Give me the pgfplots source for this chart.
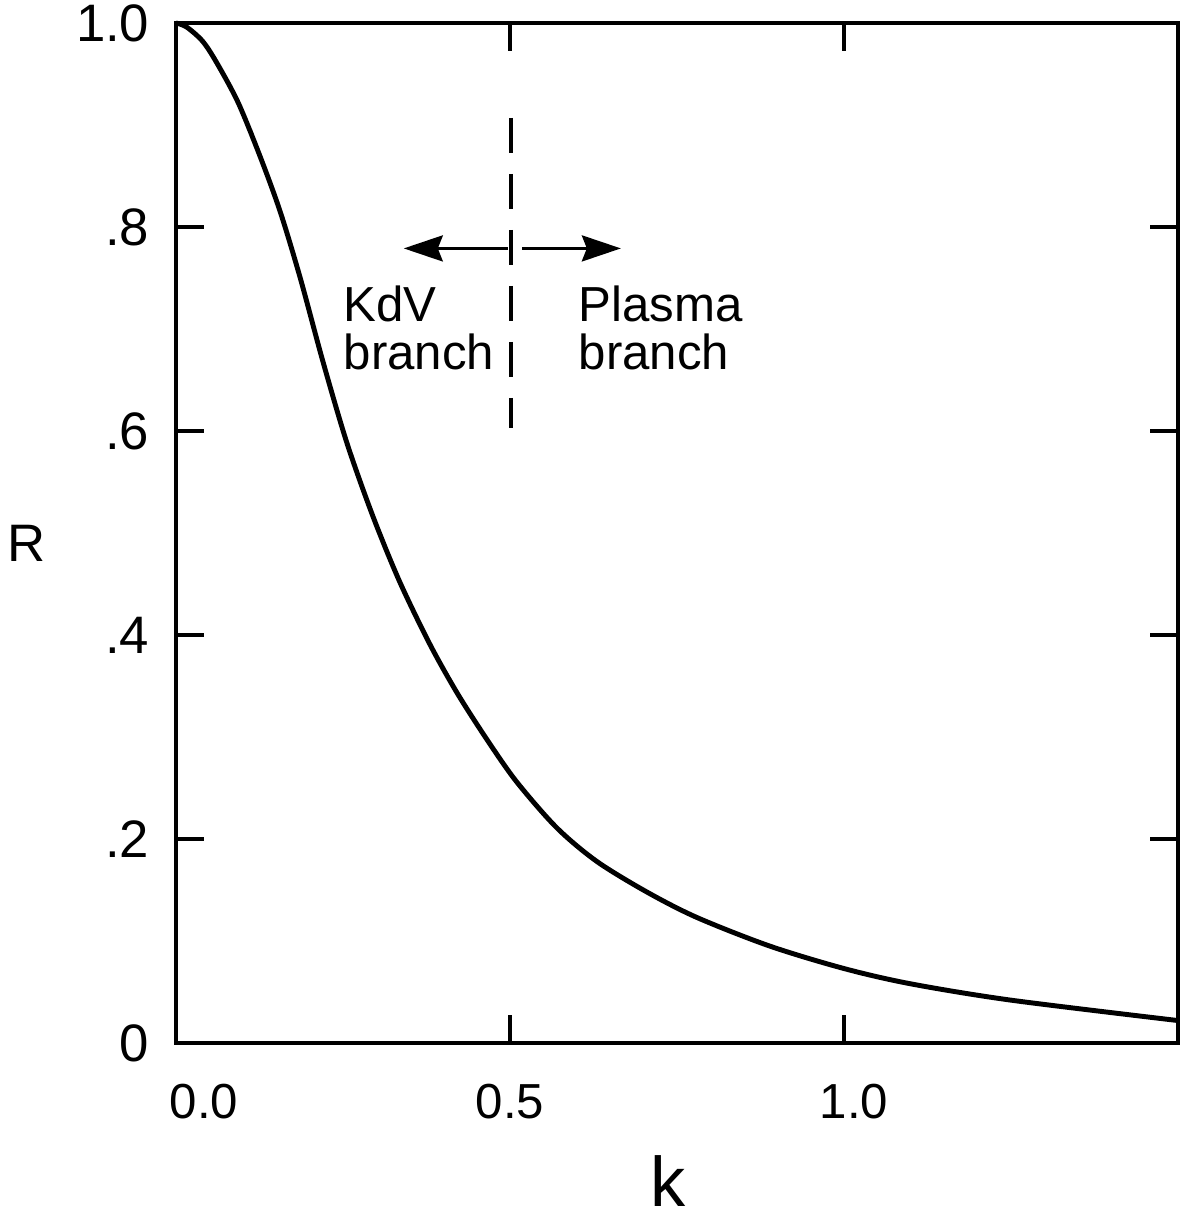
\documentclass[border=0pt]{standalone}
\usepackage{fontspec}
\setmainfont{Liberation Sans}
\usepackage{pgfplots}
\pgfplotsset{compat=1.18}
\usetikzlibrary{arrows.meta, calc}

\begin{document}
\begin{tikzpicture}
\begin{axis}[name=ax, scale only axis, width=100.2mm, height=102mm,
  xmin=0, xmax=1.5, ymin=0, ymax=1,
  axis line style={line width=1.3pt},
  tick align=inside, major tick length=2.8mm,
  tick style={line width=0.9pt, black},
  xtick={0,0.5,1.0}, xticklabels={\hspace*{5.6mm}0.0, 0.5, \hspace*{2mm}1.0},
  ytick={0,0.2,0.4,0.6,0.8,1.0}, yticklabels={0,.2,.4,.6,.8,1.0},
  xticklabel style={font=\fontsize{14}{16}\selectfont, anchor=north, inner sep=0pt, yshift=-4mm},
  yticklabel style={font=\fontsize{15}{17}\selectfont, anchor=east, inner sep=0pt, xshift=-2.6mm},
  xlabel={k}, ylabel={R},
  every axis x label/.style={at={(rel axis cs:0.491,0)}, anchor=center, yshift=-13.8mm,
    font=\fontsize{20}{22}\selectfont},
  every axis y label/.style={at={(rel axis cs:0,0.49)}, anchor=center, xshift=-14.9mm,
    font=\fontsize{15}{17}\selectfont},
  clip=false]
\addplot[line width=1.4pt, smooth] coordinates {
(0.000,1.000) (0.016,0.996) (0.040,0.982) (0.061,0.961) (0.093,0.922)
(0.126,0.869) (0.156,0.815) (0.186,0.750) (0.220,0.668) (0.256,0.588)
(0.295,0.516) (0.335,0.452) (0.380,0.391) (0.421,0.343) (0.466,0.297)
(0.510,0.256) (0.570,0.211) (0.630,0.178) (0.705,0.148) (0.780,0.123)
(0.889,0.095) (1.000,0.073) (1.100,0.058) (1.250,0.042) (1.500,0.022)};
% boundary between the two branches
\draw[line width=1.0pt, dash pattern=on 3.5mm off 2.1mm] (axis cs:0.5015,0.907) -- (axis cs:0.5015,0.603);
\draw[line width=0.9pt, -{Stealth[length=3.9mm, width=2.6mm, inset=0.5mm]}] (axis cs:0.497,0.779) -- (axis cs:0.341,0.779);
\draw[line width=0.9pt, -{Stealth[length=3.9mm, width=2.6mm, inset=0.5mm]}] (axis cs:0.518,0.779) -- (axis cs:0.666,0.779);
\node[anchor=base west, inner sep=0pt, font=\fontsize{14}{16}\selectfont] at (axis cs:0.250,0.707) {KdV};
\node[anchor=base west, inner sep=0pt, font=\fontsize{14}{16}\selectfont] at (axis cs:0.250,0.660) {branch};
\node[anchor=base west, inner sep=0pt, font=\fontsize{14}{16}\selectfont] at (axis cs:0.602,0.707) {Plasma};
\node[anchor=base west, inner sep=0pt, font=\fontsize{14}{16}\selectfont] at (axis cs:0.602,0.660) {branch};
\end{axis}
\pgfresetboundingbox
\path ($(ax.south west)+(-17.6mm,-18.0mm)$) rectangle ($(ax.north east)+(0.3mm,2.3mm)$);
\end{tikzpicture}
\end{document}
